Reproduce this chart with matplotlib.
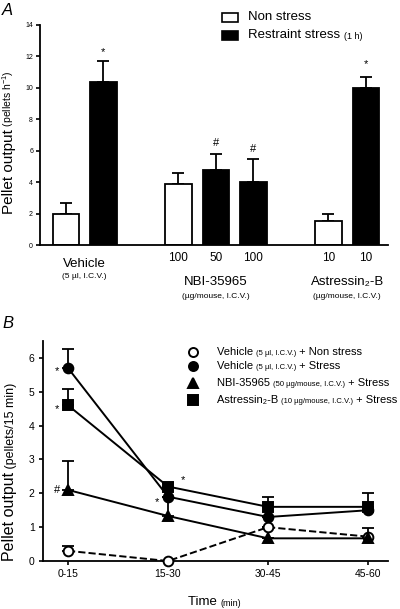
import matplotlib
matplotlib.use("Agg")
import matplotlib.pyplot as plt
import numpy as np

plt.rcParams["font.family"] = ["Liberation Sans", "DejaVu Sans"]
plt.rcParams["mathtext.fontset"] = "custom"
plt.rcParams["mathtext.rm"] = "Liberation Sans"

# ---- panel A data ----
bar_pos = [0, 1, 3, 4, 5, 7, 8]
bar_vals = [2.0, 10.4, 3.9, 4.8, 4.0, 1.5, 10.0]
bar_err = [0.7, 1.3, 0.7, 1.0, 1.5, 0.5, 0.7]
bar_stress = [False, True, False, True, True, False, True]
bar_dose = ["", "", "100", "50", "100", "10", "10"]
bar_marks = {1: ("*", 12.3), 3: ("#", 6.5), 4: ("#", 6.1), 6: ("*", 11.5)}

# ---- panel B data ----
time_labels = ["0-15", "15-30", "30-45", "45-60"]
veh_ns = [0.3, 0.0, 1.0, 0.72]
veh_ns_err = [0.15, 0.0, 0.0, 0.25]
veh_s = [5.7, 1.9, 1.3, 1.5]
veh_s_err = [0.55, 0.0, 0.0, 0.0]
nbi_s = [2.1, 1.33, 0.67, 0.67]
nbi_s_err = [0.85, 0.85, 0.0, 0.0]
ast_s = [4.6, 2.2, 1.6, 1.6]
ast_s_err = [0.47, 0.1, 0.3, 0.4]


def chain_text(first, parts, **kw):
    """Place text pieces of different sizes one after another."""
    prev = first
    for s, fs in parts:
        prev = plt.annotate(s, xy=(1, 0), xycoords=prev, ha="left", va="bottom",
                            fontsize=fs, annotation_clip=False, **kw)
    return prev


def two_size_ylabel(fig, x, y, big, small, fs_big, fs_small):
    t = fig.text(x, y, big, rotation=90, ha="right", va="bottom", fontsize=fs_big)
    plt.annotate(small, xy=(1, 1), xycoords=t, rotation=90, ha="right", va="bottom",
                 fontsize=fs_small, annotation_clip=False)


fig = plt.figure(figsize=(4.0, 6.09), dpi=100)

# ================= panel A =================
axA = fig.add_axes([0.1, 0.5977, 0.87, 0.3613])
for p, v, e, s in zip(bar_pos, bar_vals, bar_err, bar_stress):
    axA.bar(p, v, width=0.7, color="black" if s else "white",
            edgecolor="black", linewidth=1.3, zorder=2)
    axA.errorbar(p, v, yerr=[[0], [e]], fmt="none", ecolor="black",
                 elinewidth=1.3, capsize=4, capthick=1.3, zorder=1)
for i, (m, y) in bar_marks.items():
    axA.text(bar_pos[i], y, m, ha="center", va="center", fontsize=8)
axA.set_xlim(-0.69, 8.59)
axA.set_ylim(0, 14)
axA.set_yticks(np.arange(0, 15, 2))
axA.set_xticks([])
axA.tick_params(axis="y", labelsize=5, length=3, width=1.2, pad=2)
for sp in ("top", "right"):
    axA.spines[sp].set_visible(False)
for sp in ("left", "bottom"):
    axA.spines[sp].set_linewidth(1.3)

tA = axA.get_xaxis_transform()
for p, d in zip(bar_pos, bar_dose):
    if d:
        axA.text(p, -0.06, d, transform=tA, ha="center", va="center", fontsize=8.5)
axA.text(0.5, -0.085, "Vehicle", transform=tA, ha="center", va="center", fontsize=9.5)
axA.text(0.5, -0.145, "(5 µl, I.C.V.)", transform=tA, ha="center", va="center", fontsize=6)
axA.text(4, -0.17, "NBI-35965", transform=tA, ha="center", va="center", fontsize=9.5)
axA.text(4, -0.235, "(µg/mouse, I.C.V.)", transform=tA, ha="center", va="center", fontsize=6)
axA.text(7.5, -0.17, "Astressin₂-B", transform=tA, ha="center", va="center", fontsize=9.5)
axA.text(7.5, -0.235, "(µg/mouse, I.C.V.)", transform=tA, ha="center", va="center", fontsize=6)

two_size_ylabel(fig, 16 / 400, 1 - 214 / 609, "Pellet output", r" (pellets h$^{-1}$)", 11, 7.5)

# legend A
for yy, fc in ((17, "white"), (35, "black")):
    fig.patches.append(plt.Rectangle((222 / 400, 1 - (yy + 4.5) / 609), 16 / 400, 9 / 609,
                                     transform=fig.transFigure, facecolor=fc,
                                     edgecolor="black", linewidth=1.2))
fig.text(248 / 400, 1 - 17 / 609, "Non stress", ha="left", va="center", fontsize=9.5)
t = fig.text(248 / 400, 1 - 41 / 609, "Restraint stress ", ha="left", va="bottom", fontsize=9.5)
chain_text(t, [("(1 h)", 6.5)])

fig.text(0.005, 0.995, "A", ha="left", va="top", fontsize=12, style="italic")

# ================= panel B =================
axB = fig.add_axes([0.1075, 0.0788, 0.8625, 0.3613])
x = np.arange(len(time_labels))
series = [
    (veh_ns, veh_ns_err, "o", "white", "--"),
    (nbi_s, nbi_s_err, "^", "black", "-"),
    (veh_s, veh_s_err, "o", "black", "-"),
    (ast_s, ast_s_err, "s", "black", "-"),
]
for vals, errs, mk, fc, ls in series:
    axB.errorbar(x, vals, yerr=[np.zeros(len(errs)), errs], fmt="none", ecolor="black",
                 elinewidth=1.3, capsize=4, capthick=1.3, zorder=2)
    axB.plot(x, vals, linestyle=ls, color="black", linewidth=1.4,
             marker=mk, markersize=7, markerfacecolor=fc, markeredgecolor="black",
             markeredgewidth=1.4, zorder=3, clip_on=False)
axB.set_xlim(-0.25, 3.2)
axB.set_ylim(0, 6.5)
axB.set_xticks(x)
axB.set_xticklabels(time_labels)
axB.set_yticks(range(0, 7))
axB.tick_params(axis="both", labelsize=7.5, length=3, width=1.2, pad=3)
for sp in ("top", "right"):
    axB.spines[sp].set_visible(False)
for sp in ("left", "bottom"):
    axB.spines[sp].set_linewidth(1.3)

for xx, yy, m in ((-0.11, 5.6, "*"), (-0.11, 4.5, "*"), (-0.11, 2.1, "#"),
                  (0.89, 1.75, "*"), (1.15, 2.4, "*")):
    axB.text(xx, yy, m, ha="center", va="center", fontsize=8)

two_size_ylabel(fig, 17 / 400, 1 - 561 / 609, "Pellet output", " (pellets/15 min)", 11.5, 9)
t = fig.text(188 / 400, 1 - 608 / 609, "Time ", ha="left", va="bottom", fontsize=9.5)
chain_text(t, [("(min)", 6.5)])
fig.text(0.005, 1 - 316 / 609, "B", ha="left", va="top", fontsize=12, style="italic")

# legend B with mixed font sizes
leg_rows = [
    (352, "o", "white", [("Vehicle ", 8), ("(5 µl, I.C.V.)", 5.5), (" + Non stress", 8)]),
    (366, "o", "black", [("Vehicle ", 8), ("(5 µl, I.C.V.)", 5.5), (" + Stress", 8)]),
    (383, "^", "black", [("NBI-35965 ", 8), ("(50 µg/mouse, I.C.V.)", 5.5), (" + Stress", 8)]),
    (400, "s", "black", [("Astressin₂-B ", 8), ("(10 µg/mouse, I.C.V.)", 5.5), (" + Stress", 8)]),
]
for yy, mk, fc, parts in leg_rows:
    fy = 1 - yy / 609
    fig.add_artist(plt.Line2D([193 / 400], [fy], marker=mk, markersize=6.5,
                              markerfacecolor=fc, markeredgecolor="black",
                              markeredgewidth=1.4, linestyle="none",
                              transform=fig.transFigure))
    first = fig.text(217 / 400, fy - 0.009, parts[0][0], ha="left", va="bottom",
                     fontsize=parts[0][1])
    chain_text(first, parts[1:])

fig.savefig("out.png", dpi=100)
